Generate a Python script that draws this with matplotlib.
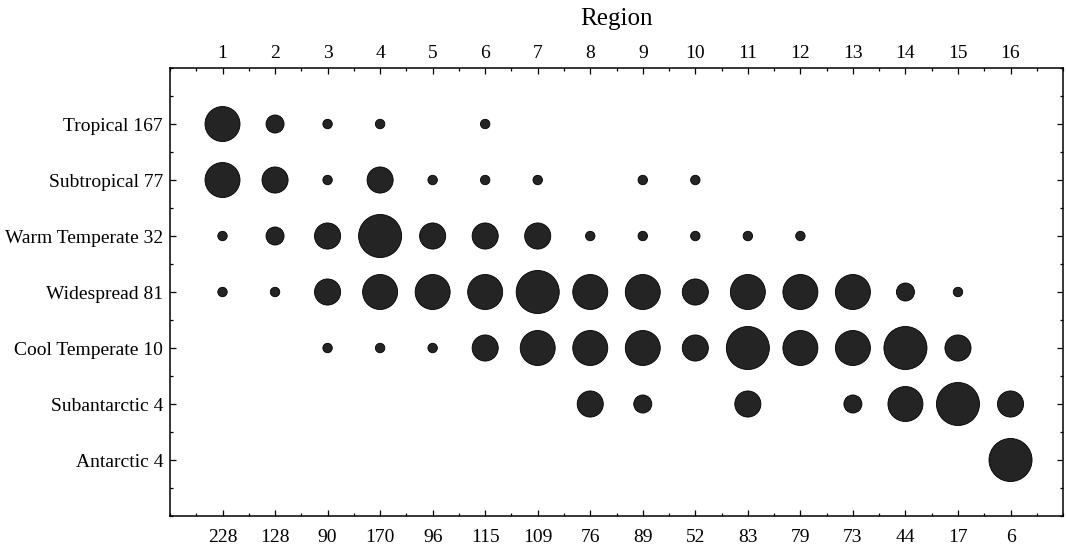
#!/usr/bin/env python3
"""Bubble chart: climate groups by region, bubble size = frequency class."""
import matplotlib

matplotlib.use("Agg")
import matplotlib.pyplot as plt  # noqa: E402
from matplotlib.ticker import MultipleLocator  # noqa: E402

regions = list(range(1, 17))
region_totals = [228, 128, 90, 170, 96, 115, 109, 76, 89, 52, 83, 79, 73, 44, 17, 6]
groups = ["Tropical 167", "Subtropical 77", "Warm Temperate 32", "Widespread 81",
          "Cool Temperate 10", "Subantarctic 4", "Antarctic 4"]

# size class per cell (0 = none)
tropical = [4, 2, 1, 1, 0, 1, 0, 0, 0, 0, 0, 0, 0, 0, 0, 0]
subtropical = [4, 3, 1, 3, 1, 1, 1, 0, 1, 1, 0, 0, 0, 0, 0, 0]
warm_temperate = [1, 2, 3, 5, 3, 3, 3, 1, 1, 1, 1, 1, 0, 0, 0, 0]
widespread = [1, 1, 3, 4, 4, 4, 5, 4, 4, 3, 4, 4, 4, 2, 1, 0]
cool_temperate = [0, 0, 1, 1, 1, 3, 4, 4, 4, 3, 5, 4, 4, 5, 3, 0]
subantarctic = [0, 0, 0, 0, 0, 0, 0, 3, 2, 0, 3, 0, 2, 4, 5, 3]
antarctic = [0, 0, 0, 0, 0, 0, 0, 0, 0, 0, 0, 0, 0, 0, 0, 5]
rows = [tropical, subtropical, warm_temperate, widespread,
        cool_temperate, subantarctic, antarctic]

# marker diameter in points for each class
diam = {1: 6.8, 2: 13.0, 3: 18.8, 4: 25.2, 5: 31.0}

plt.rcParams["font.family"] = ["Liberation Serif", "DejaVu Serif"]

fig = plt.figure(figsize=(10.67, 5.45), dpi=100)
ax = fig.add_axes([0.1593, 0.0532, 0.8370, 0.8220])

xs, ys, ss = [], [], []
for i, row in enumerate(rows):
    for r, c in zip(regions, row):
        if c:
            xs.append(r)
            ys.append(i + 1)
            ss.append(diam[c] ** 2)
ax.scatter(xs, ys, s=ss, color="#242424", edgecolors="black", linewidths=0.6, zorder=3)

ax.set_xlim(0, 17)
ax.set_ylim(8, 0)
ax.set_xticks(regions)
ax.set_xticklabels([str(v) for v in region_totals])
ax.set_yticks(range(1, len(groups) + 1))
ax.set_yticklabels(groups)
ax.xaxis.set_minor_locator(MultipleLocator(0.5))
ax.yaxis.set_minor_locator(MultipleLocator(0.5))
ax.tick_params(which="both", direction="in", top=True, right=True, labelsize=14,
               color="black", width=0.9)
ax.tick_params(which="major", length=4)
ax.tick_params(which="minor", length=2.5)
ax.tick_params(axis="x", which="major", pad=9)
ax.tick_params(axis="y", which="major", pad=5)

top = ax.secondary_xaxis("top")
top.set_xticks(regions)
top.set_xticklabels([str(r) for r in regions])
top.tick_params(direction="in", length=0, labelsize=14, pad=4)
top.set_xlabel("Region", fontsize=18, labelpad=15)

for sp in ax.spines.values():
    sp.set_linewidth(1.1)
top.spines["top"].set_visible(False)

fig.savefig("out.png", dpi=100)
